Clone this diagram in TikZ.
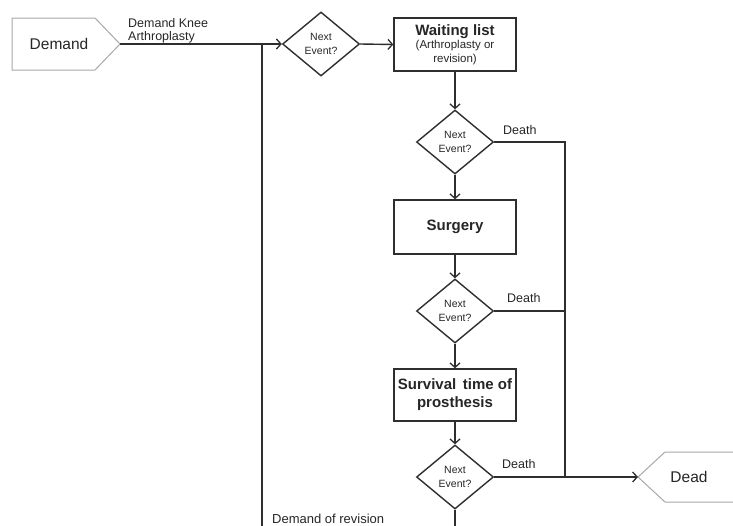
\documentclass[tikz,border=0pt]{standalone}
\usepackage{fontspec}
\setmainfont{Liberation Sans}
\usetikzlibrary{shapes.geometric,arrows.meta}
\definecolor{lc}{HTML}{2E2E2E}
\definecolor{tc}{HTML}{262626}
\definecolor{sc}{HTML}{A8A8A8}
\begin{document}
\begin{tikzpicture}[x=1pt,y=-1pt,
  dec/.style={diamond, draw=lc, line width=1.4pt, minimum width=77pt, minimum height=64pt,
    inner sep=0pt, align=center, text=tc, font=\fontsize{10.5}{13.5}\selectfont},
  boxst/.style={rectangle, draw=lc, line width=1.4pt, minimum width=122pt, align=center,
    text=tc, font=\bfseries\fontsize{15}{18}\selectfont},
  arr/.style={draw=lc, line width=1.4pt, -{Straight Barb[length=4.5pt,width=10pt,line width=1.3pt]}},
  ln/.style={draw=lc, line width=1.4pt},
  lbl/.style={text=tc, inner sep=0pt, font=\fontsize{12.5}{12.5}\selectfont},
  termtxt/.style={text=tc, inner sep=0pt, font=\fontsize{15.5}{18}\selectfont},
  termshape/.style={draw=sc, line width=1pt}
]
\useasboundingbox (0,0) rectangle (733,525);

% terminals
\draw[termshape] (12,18) -- (95,18) -- (120,44) -- (95,70) -- (12,70) -- cycle;
\node[termtxt] (demand) at (59,44) {Demand};
\coordinate (demandtip) at (120,44);

\draw[termshape] (745,452) -- (665,452) -- (638,477) -- (665,502) -- (745,502);
\node[termtxt] (dead) at (689,477) {Dead};
\coordinate (deadtip) at (638,477);

% main nodes
\node[dec] (d1) at (321,44) {Next\\Event?};
\node[boxst, minimum height=53pt] (wl) at (455,44.5)
  {\raisebox{-2pt}{Waiting list}\\[-3pt]{\mdseries\fontsize{11.5}{13}\selectfont (Arthroplasty or}\\[-4pt]{\mdseries\fontsize{11.5}{13}\selectfont revision)}};
\node[dec] (d2) at (455,142) {Next\\Event?};
\node[boxst, minimum height=54pt] (surg) at (455,227) {Surgery};
\node[dec] (d3) at (455,311) {Next\\Event?};
\node[boxst, minimum height=52pt] (surv) at (455,395) {Survival\, time of\\prosthesis};
\node[dec] (d4) at (455,477) {Next\\Event?};

% labels
\node[lbl, anchor=north west, align=left] (lk) at (128,18.5) {Demand Knee\\Arthroplasty};
\node[lbl, anchor=west] (l2) at (503,130) {Death};
\node[lbl, anchor=west] (l3) at (507,298) {Death};
\node[lbl, anchor=west] (l4) at (502,464) {Death};
\node[lbl, anchor=base west, font=\fontsize{13}{14}\selectfont] (lr) at (272,523) {Demand of revision};

% coordinates
\coordinate (dj) at (565,477);
\coordinate (loopj) at (262,44);
\coordinate (bl) at (455,545);
\coordinate (br) at (262,545);

% connectors
\draw[arr] (demandtip) -- (d1.west);
\draw[arr] (d1.east) -- (wl.west);
\draw[arr] (wl.south) -- (d2.north);
\draw[arr] (d2.south) -- (surg.north);
\draw[arr] (surg.south) -- (d3.north);
\draw[arr] (d3.south) -- (surv.north);
\draw[arr] (surv.south) -- (d4.north);
\draw[arr] (d4.east) -- (deadtip);
\draw[ln] (d2.east) -| (dj);
\draw[ln] (d3.east) -- (d3.east -| dj);
\draw[ln] (d4.south) -- (bl) -- (br) -- (loopj);
\end{tikzpicture}
\end{document}
